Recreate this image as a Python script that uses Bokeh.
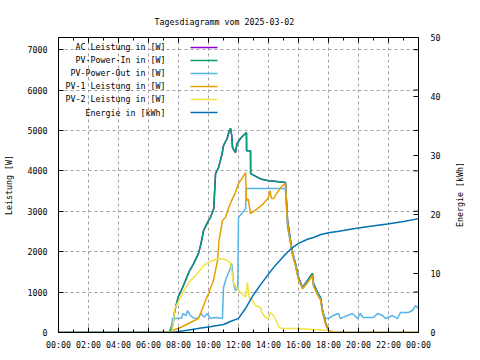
import math
from bokeh.plotting import figure
from bokeh.models import (Range1d, LinearAxis, FixedTicker, CustomJSTickFormatter,
                          Label, Title)
from bokeh.embed import file_html
from bokeh.resources import INLINE

TITLE = "Tagesdiagramm vom 2025-03-02"
Y_LABEL = "Leistung [W]"
Y2_LABEL = "Energie [kWh]"
X_TICKS = list(range(0, 25, 2))
X_MINOR = list(range(1, 24, 2))
Y_TICKS = list(range(0, 7001, 1000))
Y2_TICKS = list(range(0, 51, 10))

series_names = ["AC Leistung in [W]", "PV-Power-In in [W]", "PV-Power-Out in [W]",
                "PV-1 Leistung in [W]", "PV-2 Leistung in [W]", "Energie in [kWh]"]
series_colors = ["#9400d3", "#009e73", "#56b4e9", "#e69f00", "#f0e442", "#0072b2"]

# PV-Power-In (W)
pv_in_t = [0, 7.4, 7.67, 7.75, 8.0, 8.2, 8.47, 8.7, 9.0, 9.33, 9.5, 9.67, 10.0, 10.13, 10.35,
           10.47, 10.67, 10.91, 11.0, 11.24, 11.35, 11.47, 11.55, 11.6, 11.8, 11.9, 12.13, 12.3,
           12.53, 12.54, 12.8, 12.81, 13.47, 13.93, 15.13, 15.27, 15.47, 15.6, 15.8, 16.0, 16.27,
           16.6, 16.93, 17.0, 17.27, 17.47, 17.6, 17.8, 18.0, 18.3, 24]
pv_in_v = [0, 0, 297, 544, 900, 1050, 1286, 1500, 1700, 1953, 2200, 2522, 2770, 2844, 3066,
           3930, 4080, 4427, 4625, 4800, 4950, 5050, 4870, 4575, 4450, 4674, 4800, 4870,
           4950, 4500, 4500, 3930, 3800, 3760, 3710, 2770, 2275, 1953, 1706, 1360, 1113,
           1286, 1459, 1212, 989, 865, 544, 247, 50, 0, 0]

# AC Leistung (W) - hidden beneath PV-Power-In in the picture
ac_t = list(pv_in_t)
ac_v = list(pv_in_v)

# PV-Power-Out (W)
pv_out_t = [0, 7.5, 7.6, 7.8, 8.2, 8.3, 8.5, 8.6, 8.8, 9.0, 9.3, 9.5, 9.7, 9.93, 10.1, 10.5,
            10.93, 11.0, 11.2, 11.4, 11.55, 11.67, 11.8, 11.95, 12.0, 12.27, 12.47, 12.53,
            15.13, 15.27, 15.47, 15.67, 15.8, 16.0, 16.27, 16.6, 16.93, 17.0, 17.27, 17.47,
            17.6, 17.8, 18.0, 18.3, 18.67, 18.8, 19.0, 19.27, 19.6, 19.93, 20.13, 20.3, 21.0,
            21.27, 21.6, 21.8, 22.27, 22.6, 22.8, 23.33, 23.6, 23.8, 24.0]
pv_out_v = [0, 0, 350, 346, 360, 470, 420, 540, 420, 360, 350, 470, 380, 470, 350, 370,
            346, 1113, 1360, 1533, 1706, 1212, 1039, 1088, 2844, 2968, 3066, 3561,
            3561, 2600, 2200, 1900, 1650, 1330, 1100, 1250, 1400, 1150, 950, 820,
            520, 350, 346, 420, 470, 346, 380, 420, 470, 346, 470, 370, 370,
            470, 420, 346, 420, 346, 494, 494, 544, 667, 593]

# PV-1 Leistung (W)
pv1_t = [0, 7.33, 7.6, 8.13, 8.8, 9.33, 9.6, 9.8, 10.0, 10.33, 10.6, 10.7, 10.93, 11.13,
         11.35, 11.6, 11.8, 12.0, 12.27, 12.47, 12.53, 12.65, 12.8, 13.27, 13.67, 14.0, 14.1,
         14.2, 14.33, 14.67, 14.93, 15.13, 15.27, 15.47, 15.6, 15.8, 16.0, 16.27, 16.6, 16.93,
         17.0, 17.27, 17.47, 17.6, 17.8, 18.0, 18.4, 24]
pv1_v = [0, 0, 50, 124, 247, 346, 593, 791, 964, 1286, 1780, 2275, 2770, 2844,
         3091, 3314, 3462, 3685, 3833, 3957, 3264, 3300, 2943, 3066, 3190, 3338, 3511,
         3314, 3314, 3511, 3635, 3685, 2700, 2250, 1900, 1650, 1300, 1080, 1230, 1420,
         1150, 930, 800, 500, 220, 50, 0, 0]

# PV-2 Leistung (W)
pv2_t = [0, 7.6, 7.67, 7.75, 8.13, 8.47, 8.8, 9.27, 9.67, 10.13, 10.67, 11.13, 11.47, 11.55,
         11.67, 11.93, 12.13, 12.47, 12.6, 12.7, 12.93, 13.13, 13.47, 13.55, 13.8, 14.0, 14.13,
         14.33, 14.6, 14.7, 14.93, 15.93, 16.93, 18.0, 18.1, 24]
pv2_v = [0, 0, 297, 593, 865, 1113, 1286, 1459, 1657, 1756, 1830, 1805, 1731, 1533,
         1212, 1088, 989, 880, 1237, 865, 791, 667, 618, 494, 371, 346, 494,
         420, 222, 124, 99, 99, 74, 50, 0, 0]

# Energie (kWh)
en_t = [0, 7.5, 8.0, 8.5, 9.0, 9.5, 10.0, 10.5, 11.0, 11.5, 12.0, 12.5, 13.0, 13.5, 14.0,
        14.5, 15.0, 15.27, 15.6, 16.0, 16.6, 17.0, 17.5, 18.0, 18.6, 19.67, 20.8, 21.93,
        23.0, 24.0]
en_v = [0, 0, 0.15, 0.35, 0.55, 0.75, 0.95, 1.15, 1.35, 1.9, 2.4, 4.2, 6.4, 8.2, 9.9,
        11.5, 12.9, 13.6, 14.4, 15.1, 15.8, 16.1, 16.6, 16.9, 17.1, 17.6, 18.0, 18.4,
        18.8, 19.3]

FONT = "DejaVu Sans Mono"
FS = "8.3px"
X_MAX, Y_MAX, Y2_MAX = 24, 7300, 50

p = figure(width=472, height=352, x_range=Range1d(0, X_MAX), y_range=Range1d(0, Y_MAX),
           output_backend="svg", toolbar_location=None,
           min_border_left=58, min_border_right=54, min_border_top=37, min_border_bottom=20,
           x_axis_location=None, y_axis_location=None)
p.extra_y_ranges = {"e": Range1d(0, Y2_MAX)}
p.outline_line_color = "black"
p.outline_line_width = 1
p.background_fill_color = "white"
p.border_fill_color = "white"

hour_fmt = CustomJSTickFormatter(code="""
const h = Math.round(tick) % 24;
return (h < 10 ? '0' : '') + h + ':00';
""")


def style_axis(ax):
    ax.axis_line_color = "black"
    ax.major_tick_in = 5
    ax.major_tick_out = 0
    ax.minor_tick_in = 3
    ax.minor_tick_out = 0
    ax.major_tick_line_color = "black"
    ax.minor_tick_line_color = "black"
    ax.major_label_text_font = FONT
    ax.major_label_text_font_size = FS
    ax.major_label_text_color = "black"
    ax.axis_label_text_font = FONT
    ax.axis_label_text_font_size = FS
    ax.axis_label_text_font_style = "normal"
    ax.axis_label_text_color = "black"


xb = LinearAxis(ticker=FixedTicker(ticks=X_TICKS, minor_ticks=X_MINOR), formatter=hour_fmt)
style_axis(xb)
xb.major_label_standoff = 7
p.add_layout(xb, "below")

yl = LinearAxis(ticker=FixedTicker(ticks=Y_TICKS, minor_ticks=[]), axis_label=Y_LABEL)
style_axis(yl)
yl.major_label_standoff = 11
yl.axis_label_standoff = 11
p.add_layout(yl, "left")

yr = LinearAxis(y_range_name="e", ticker=FixedTicker(ticks=Y2_TICKS, minor_ticks=[]))
style_axis(yr)
yr.major_label_standoff = 12
p.add_layout(yr, "right")

# right axis title, reading upward like gnuplot's y2label
y2_title = Label(x=16, y=138, x_units="screen", y_units="screen", text=Y2_LABEL,
                 angle=math.pi / 2, text_align="center", text_baseline="middle",
                 text_font=FONT, text_font_size=FS, text_color="black")
p.add_layout(y2_title, "right")

# mirrored ticks (gnuplot style) on top and right edges
p.ray(x=X_TICKS, y=[Y_MAX] * len(X_TICKS), length=5, angle=-math.pi / 2,
      length_units="screen", color="black", line_width=1)
p.ray(x=X_MINOR, y=[Y_MAX] * len(X_MINOR), length=3, angle=-math.pi / 2,
      length_units="screen", color="black", line_width=1)
p.ray(x=[X_MAX] * len(Y_TICKS), y=Y_TICKS, length=5, angle=math.pi,
      length_units="screen", color="black", line_width=1)

p.xgrid.ticker = FixedTicker(ticks=X_TICKS)
p.ygrid.ticker = FixedTicker(ticks=Y_TICKS)
for g in (p.xgrid, p.ygrid):
    g.grid_line_color = "#a0a0a0"
    g.grid_line_dash = "3 3"
    g.grid_line_width = 1

t = Title(text=TITLE, align="left", offset=96, text_font=FONT, text_font_size=FS,
          text_font_style="normal", text_color="black", standoff=21)
p.add_layout(t, "above")

LW = 1.5
p.line(ac_t, ac_v, color=series_colors[0], line_width=LW)
p.line(pv_in_t, pv_in_v, color=series_colors[1], line_width=LW)
p.line(pv_out_t, pv_out_v, color=series_colors[2], line_width=LW)
p.line(pv1_t, pv1_v, color=series_colors[3], line_width=LW)
p.line(pv2_t, pv2_v, color=series_colors[4], line_width=LW)
p.line(en_t, en_v, color=series_colors[5], line_width=LW, y_range_name="e")

# legend (gnuplot style: right-aligned text, then line sample)
LEG_TEXT_X = 7.13
LEG_LINE_X0, LEG_LINE_X1 = 8.8, 10.6
LEG_Y0, LEG_DY = 7054, 322
for i, (name, col) in enumerate(zip(series_names, series_colors)):
    yy = LEG_Y0 - i * LEG_DY
    p.add_layout(Label(x=LEG_TEXT_X, y=yy, text=name, text_align="right",
                       text_baseline="middle", text_font=FONT, text_font_size=FS,
                       text_color="black"))
    p.line([LEG_LINE_X0, LEG_LINE_X1], [yy, yy], color=col, line_width=LW)

open("out.html", "w").write(file_html(p, INLINE))
